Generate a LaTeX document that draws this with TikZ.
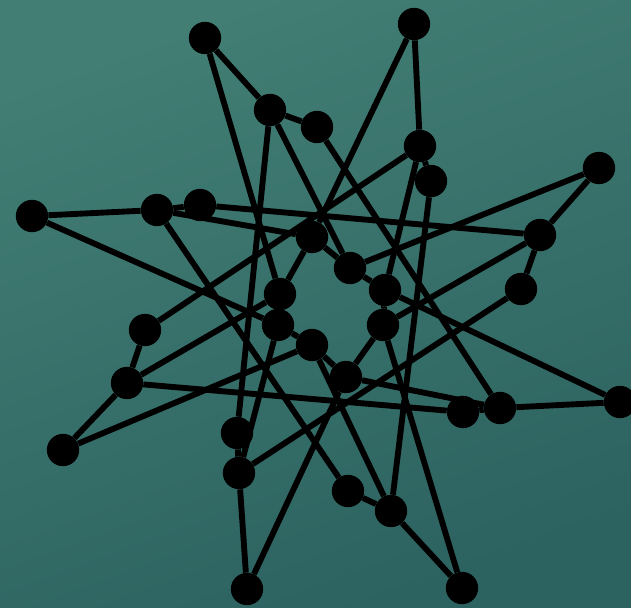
\documentclass[tikz,border=0pt]{standalone}
\usepackage{tikz}
\usetikzlibrary{shapes,arrows.meta,calc}
\definecolor{tealtop}{RGB}{66,126,116}
\definecolor{tealbot}{RGB}{44,98,96}

\begin{document}
\begin{tikzpicture}[x=0.03cm, y=-0.03cm,
    vtx/.style={circle, fill=black, inner sep=0pt, minimum size=0.97cm},
    edge/.style={black, line width=5pt}]
  % Background
  \shade[shading=axis, top color=tealtop, bottom color=tealbot, shading angle=20]
    (0,0) rectangle (631,608);
  \useasboundingbox (0,0) rectangle (631,608);
  % Star tips
  \node[vtx] (t1) at (205,38) {};
  \node[vtx] (t2) at (414,24) {};
  \node[vtx] (t3) at (599,168) {};
  \node[vtx] (t4) at (620,402) {};
  \node[vtx] (t5) at (462,588) {};
  \node[vtx] (t6) at (247,589) {};
  \node[vtx] (t7) at (63,450) {};
  \node[vtx] (t8) at (32,216) {};
  % Middle ring, outer member of each pair
  \node[vtx] (ma1) at (270,110) {};
  \node[vtx] (ma2) at (420,146) {};
  \node[vtx] (ma3) at (540,235) {};
  \node[vtx] (ma4) at (500,408) {};
  \node[vtx] (ma5) at (391,511) {};
  \node[vtx] (ma6) at (239,473) {};
  \node[vtx] (ma7) at (127,383) {};
  \node[vtx] (ma8) at (157,210) {};
  % Middle ring, inner member of each pair
  \node[vtx] (mb1) at (317,127) {};
  \node[vtx] (mb2) at (431,181) {};
  \node[vtx] (mb3) at (521,289) {};
  \node[vtx] (mb4) at (463,412) {};
  \node[vtx] (mb5) at (348,491) {};
  \node[vtx] (mb6) at (237,433) {};
  \node[vtx] (mb7) at (145,330) {};
  \node[vtx] (mb8) at (200,205) {};
  % Inner ring
  \node[vtx] (in1) at (312,237) {};
  \node[vtx] (in2) at (350,268) {};
  \node[vtx] (in3) at (385,290) {};
  \node[vtx] (in4) at (383,325) {};
  \node[vtx] (in5) at (346,377) {};
  \node[vtx] (in6) at (312,345) {};
  \node[vtx] (in7) at (278,325) {};
  \node[vtx] (in8) at (280,294) {};
  % Tips to middle ring and to inner ring
  \draw[edge] (t1) -- (ma1) (t1) -- (in8);
  \draw[edge] (t2) -- (ma2) (t2) -- (in1);
  \draw[edge] (t3) -- (ma3) (t3) -- (in2);
  \draw[edge] (t4) -- (ma4) (t4) -- (in3);
  \draw[edge] (t5) -- (ma5) (t5) -- (in4);
  \draw[edge] (t6) -- (ma6) (t6) -- (in5);
  \draw[edge] (t7) -- (ma7) (t7) -- (in6);
  \draw[edge] (t8) -- (ma8) (t8) -- (in7);
  % Pairs
  \draw[edge] (ma1) -- (mb1) (ma2) -- (mb2) (ma3) -- (mb3) (ma4) -- (mb4);
  \draw[edge] (ma5) -- (mb5) (ma6) -- (mb6) (ma7) -- (mb7) (ma8) -- (mb8);
  % Long chords across the middle ring
  \draw[edge] (mb1) -- (ma4) (mb2) -- (ma5) (mb3) -- (ma6) (mb4) -- (ma7);
  \draw[edge] (mb5) -- (ma8) (mb6) -- (ma1) (mb7) -- (ma2) (mb8) -- (ma3);
  % Middle ring to inner ring
  \draw[edge] (ma1) -- (in2) (ma2) -- (in3) (ma3) -- (in4) (ma4) -- (in5);
  \draw[edge] (ma5) -- (in6) (ma6) -- (in7) (ma7) -- (in8) (ma8) -- (in1);
  % Inner cycle
  \draw[edge] (in1) -- (in2) -- (in3) -- (in4) -- (in5) -- (in6) -- (in7)
    -- (in8) -- (in1);
\end{tikzpicture}
\end{document}
